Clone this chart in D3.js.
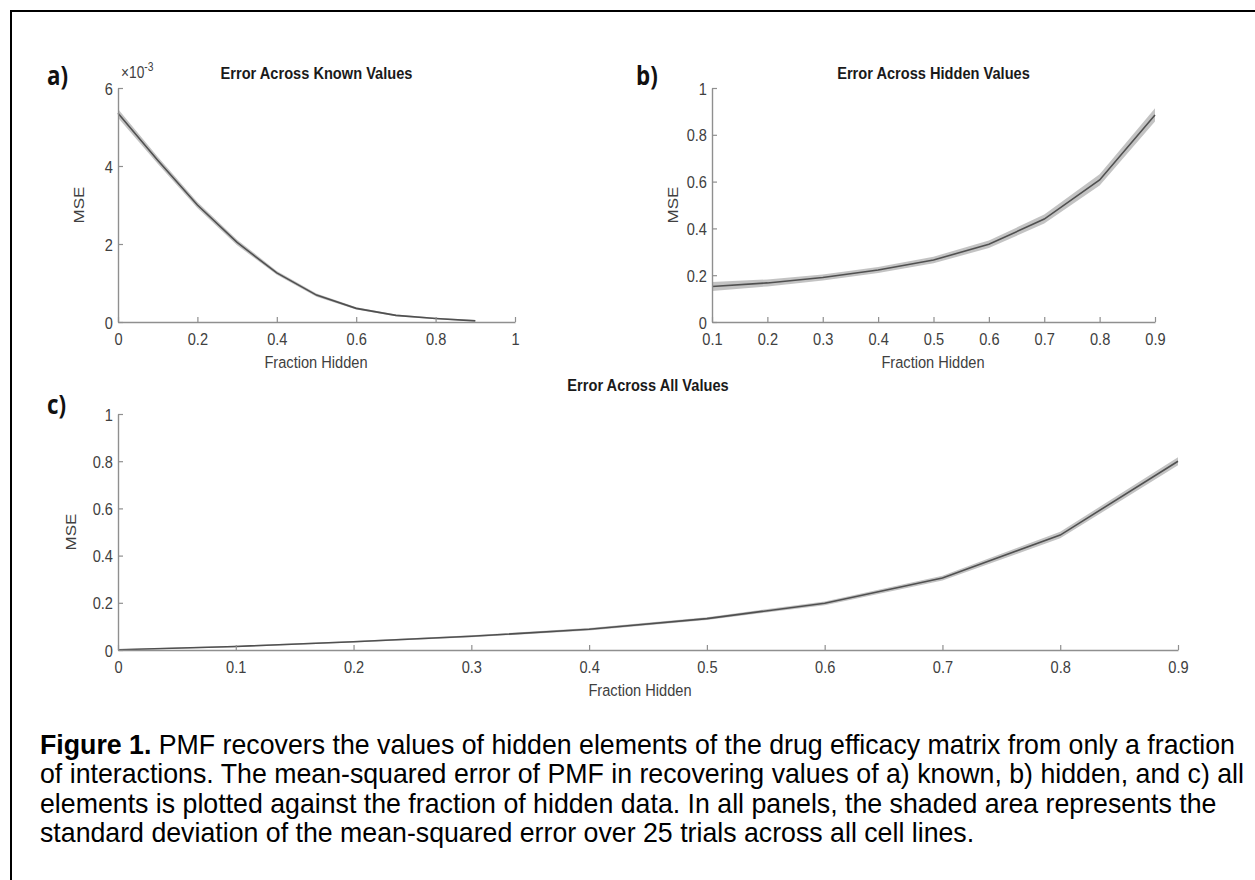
<!DOCTYPE html>
<html><head><meta charset="utf-8">
<script src="https://d3js.org/d3.v7.min.js"></script>
<style>body{margin:0;background:#fff;} svg{display:block;}</style>
</head><body>
<svg id="fig" width="1255" height="880"></svg>
<script>
// ---- data ----
const xA = [0,0.1,0.2,0.3,0.4,0.5,0.6,0.7,0.8,0.9];
const meanA = [5.35,4.15,3.0,2.04,1.26,0.69,0.35,0.17,0.09,0.03]; // x1e-3
const sdA   = [0.11,0.09,0.08,0.07,0.05,0.04,0.03,0.02,0.02,0.02];
const xB = [0.1,0.2,0.3,0.4,0.5,0.6,0.7,0.8,0.9];
const meanB = [0.152,0.167,0.19,0.222,0.265,0.332,0.44,0.607,0.885];
const sdB   = [0.019,0.015,0.013,0.013,0.014,0.016,0.019,0.024,0.028];
const xC = [0,0.1,0.2,0.3,0.4,0.5,0.6,0.7,0.8,0.9];
const meanC = [0.001,0.015,0.035,0.058,0.088,0.133,0.198,0.305,0.487,0.8];
const sdC   = [0.002,0.003,0.003,0.004,0.005,0.006,0.008,0.01,0.014,0.017];
const ticksAx = [0,0.2,0.4,0.6,0.8,1];
const ticksAy = [0,2,4,6];
const ticksBx = [0.1,0.2,0.3,0.4,0.5,0.6,0.7,0.8,0.9];
const ticksBy = [0,0.2,0.4,0.6,0.8,1];
const ticksCx = [0,0.1,0.2,0.3,0.4,0.5,0.6,0.7,0.8,0.9];
const ticksCy = [0,0.2,0.4,0.6,0.8,1];
const captionLines = [
 ["Figure 1.", " PMF recovers the values of hidden elements of the drug efficacy matrix from only a fraction"],
 ["", "of interactions. The mean-squared error of PMF in recovering values of a) known, b) hidden, and c) all"],
 ["", "elements is plotted against the fraction of hidden data. In all panels, the shaded area represents the"],
 ["", "standard deviation of the mean-squared error over 25 trials across all cell lines."]
];

const svg = d3.select("#fig");
const AX = "#8f8f8f", TXT = "#404040";
const FONT = "'Liberation Sans', Arial, sans-serif";
const SX = 0.86; // horizontal condensation of the figure text

// border
svg.append("rect").attr("x",11).attr("y",11).attr("width",1270).attr("height",900)
  .attr("fill","none").attr("stroke","#000").attr("stroke-width",2);

function ctext(parent, x, y, str, size, opts={}){
  const g = parent.append("g").attr("transform",`translate(${x},${y})${opts.rot?` rotate(${opts.rot})`:""}`);
  const t = g.append("text").attr("transform", opts.rot ? `scale(1,${SX})` : `scale(${SX},1)`)
    .attr("text-anchor", opts.anchor||"middle")
    .style("font-family", opts.family||FONT).style("font-size", size+"px")
    .style("font-weight", opts.bold?"bold":"normal").attr("fill", opts.fill||TXT).text(str);
  return t;
}

function panel(o){
  const x = d3.scaleLinear().domain(o.xd).range([o.l,o.r]);
  const y = d3.scaleLinear().domain(o.yd).range([o.b,o.t]);
  const g = svg.append("g");
  const data = o.xs.map((v,i)=>({x:v,m:o.m[i],s:o.s[i]}));
  g.append("path").datum(data)
    .attr("d", d3.area().x(d=>x(d.x)).y0(d=>y(d.m-d.s)).y1(d=>y(d.m+d.s)))
    .attr("fill","#bcbcbc").attr("opacity",0.9);
  g.append("path").datum(data)
    .attr("d", d3.line().x(d=>x(d.x)).y(d=>y(d.m)))
    .attr("fill","none").attr("stroke","#505050").attr("stroke-width",1.6);
  const fmt = d=>d3.format("~g")(+(+d).toFixed(2));
  const xa = g.append("g").attr("transform",`translate(0,${o.b})`)
    .call(d3.axisBottom(x).tickValues(o.tx).tickSizeInner(-5).tickSizeOuter(0).tickPadding(11).tickFormat(fmt));
  const ya = g.append("g").attr("transform",`translate(${o.l},0)`)
    .call(d3.axisLeft(y).tickValues(o.ty).tickSizeInner(-5).tickSizeOuter(0).tickPadding(5).tickFormat(fmt));
  [xa,ya].forEach(a=>{
    a.select(".domain").attr("stroke",AX).attr("stroke-width",1.4);
    a.selectAll(".tick line").attr("stroke",AX).attr("stroke-width",1.2);
    a.selectAll(".tick text").attr("fill",TXT).style("font-family",FONT).style("font-size","17px");
  });
  xa.selectAll(".tick text").attr("transform",`scale(${SX},1)`);
  ya.selectAll(".tick text").attr("dy","0.36em").each(function(){
    const t = d3.select(this); const xv = +t.attr("x");
    t.attr("x", xv/SX).attr("transform",`scale(${SX},1)`);
  });
  ctext(g,(o.l+o.r)/2,o.ty0,o.title,17,{bold:true,fill:"#1a1a1a"});
  ctext(g,o.xlx,o.b+46,"Fraction Hidden",17);
  ctext(g,o.ylx,o.yly,"MSE",17,{rot:-90});
  ctext(g,o.lx,o.ly,o.label,26,{bold:true,fill:"#111",anchor:"start",family:"'Open Sans','DejaVu Sans',sans-serif"});
  return g;
}

const ga = panel({xs:xA,m:meanA,s:sdA,xd:[0,1],yd:[0,6],l:118,r:515,t:88,b:322,tx:ticksAx,ty:ticksAy,
  title:"Error Across Known Values",ty0:79,xlx:316,ylx:84,yly:205,label:"a)",lx:47,ly:85});
const gb = panel({xs:xB,m:meanB,s:sdB,xd:[0.1,0.9],yd:[0,1],l:712,r:1155,t:88,b:322,tx:ticksBx,ty:ticksBy,
  title:"Error Across Hidden Values",ty0:79,xlx:933,ylx:678,yly:205,label:"b)",lx:636,ly:85});
const gc = panel({xs:xC,m:meanC,s:sdC,xd:[0,0.9],yd:[0,1],l:118,r:1178,t:414,b:650,tx:ticksCx,ty:ticksCy,
  title:"Error Across All Values",ty0:391,xlx:640,ylx:76,yly:532,label:"c)",lx:47,ly:414});

// exponent label for panel a
const exg = ga.append("g").attr("transform","translate(121,78)");
const ex = exg.append("text").attr("transform",`scale(${SX},1)`)
  .style("font-family",FONT).style("font-size","16px").attr("fill",TXT);
ex.append("tspan").text("\u00d710");
ex.append("tspan").attr("dy","-7").style("font-size","12px").text("-3");

// caption
const capX = 40, capY0 = 754, capDY = 29.3;
const cap = svg.append("g");
captionLines.forEach((ln,i)=>{
  const t = cap.append("text").attr("x",capX).attr("y",capY0+i*capDY)
    .style("font-family",FONT).style("font-size","20px").attr("fill","#000");
  if(ln[0]) t.append("tspan").style("font-weight","bold").text(ln[0]);
  t.append("tspan").text(ln[1]);
});
const first = cap.select("text").node();
const w = first.getComputedTextLength();
const fs = 20*1195/w;
cap.selectAll("text").style("font-size",fs.toFixed(2)+"px");
</script>
</body></html>
